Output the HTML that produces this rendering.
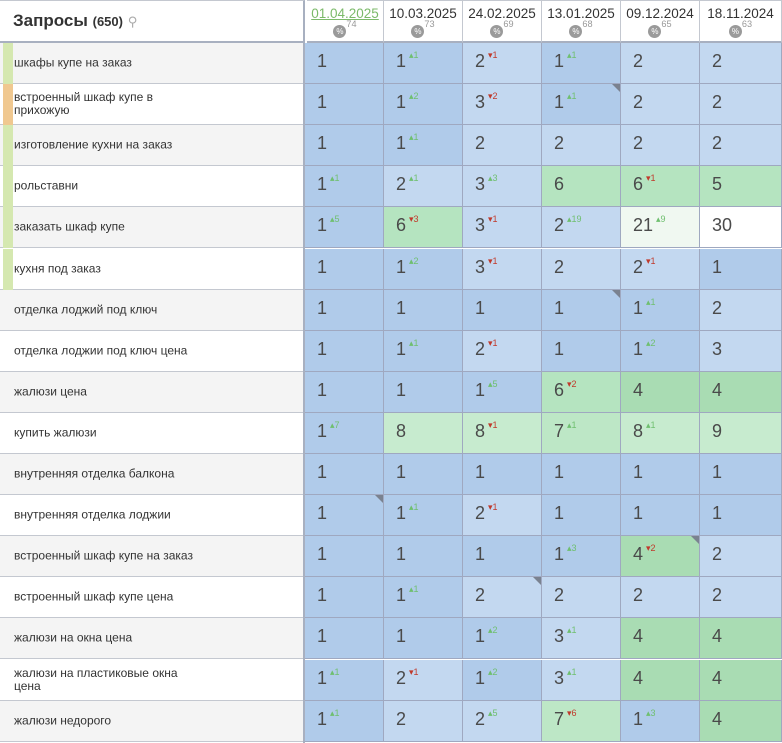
<!DOCTYPE html>
<html><head><meta charset="utf-8"><style>
body{margin:0;width:782px;height:743px;overflow:hidden;background:#fff;font-family:"Liberation Sans","DejaVu Sans",sans-serif;position:relative}
.a{position:absolute;box-sizing:border-box}
.lc{left:0;width:305px;height:41px;border-bottom:1px solid #c4c8d0;font-size:12px;color:#333;line-height:13px}
.lc .t{position:absolute;left:14px;top:50%;transform:translateY(-50%);width:180px}
.strip{position:absolute;left:3px;top:0;width:10px;height:41px}
.c{height:41px;border-right:1px solid #9fa8c0;border-bottom:1px solid #9fa8c0;font-size:18px;color:#4a4a4a;padding:8px 0 0 12px}
.c sup{font-size:9px;vertical-align:top;position:relative;top:-1px;margin-left:3px}
.g{color:#6fbf6f}.r{color:#c0392b}
.tri{position:absolute;right:0;top:0;width:0;height:0;border-top:8px solid #7a8290;border-left:8px solid transparent}
.h{top:0;height:43px;border-right:1px solid #c4c8d0;text-align:center;font-size:13.5px;color:#333}
.pc{display:inline-block;width:13px;height:13px;border-radius:50%;background:#9a9a9a;color:#fff;font-size:8px;line-height:13px;text-align:center;vertical-align:middle}
</style></head><body>
<div class="a" style="left:0;top:0;width:305px;height:43px;border-bottom:2px solid #a8b0c0;border-right:2px solid #a8b0c0;border-top:1px solid #c4c8d0"></div>
<div class="a" style="left:13px;top:11px;font-size:17px;font-weight:bold;color:#333">Запросы <span style="font-size:13px">(650)</span> <span style="font-size:13px;color:#aaa;font-weight:normal">⚲</span></div>
<div id="root"></div>
<script>
const dates=[["01.04.2025",74],["10.03.2025",73],["24.02.2025",69],["13.01.2025",68],["09.12.2024",65],["18.11.2024",63]];
const xs=[305,384,463,542,621,700,782];
const rows=[
["шкафы купе на заказ","#d5e8b0",[[1],[1,"g1"],[2,"r1"],[1,"g1"],[2],[2]]],
["встроенный шкаф купе в прихожую","#f0c890",[[1],[1,"g2"],[3,"r2"],[1,"g1",1],[2],[2]]],
["изготовление кухни на заказ","#d5e8b0",[[1],[1,"g1"],[2],[2],[2],[2]]],
["рольставни","#d5e8b0",[[1,"g1"],[2,"g1"],[3,"g3"],[6],[6,"r1"],[5]]],
["заказать шкаф купе","#d5e8b0",[[1,"g5"],[6,"r3"],[3,"r1"],[2,"g19"],[21,"g9"],[30]]],
["кухня под заказ","#d5e8b0",[[1],[1,"g2"],[3,"r1"],[2],[2,"r1"],[1]]],
["отделка лоджий под ключ","",[[1],[1],[1],[1,"",1],[1,"g1"],[2]]],
["отделка лоджии под ключ цена","",[[1],[1,"g1"],[2,"r1"],[1],[1,"g2"],[3]]],
["жалюзи цена","",[[1],[1],[1,"g5"],[6,"r2"],[4],[4]]],
["купить жалюзи","",[[1,"g7"],[8],[8,"r1"],[7,"g1"],[8,"g1"],[9]]],
["внутренняя отделка балкона","",[[1],[1],[1],[1],[1],[1]]],
["внутренняя отделка лоджии","",[[1,"",1],[1,"g1"],[2,"r1"],[1],[1],[1]]],
["встроенный шкаф купе на заказ","",[[1],[1],[1],[1,"g3"],[4,"r2",1],[2]]],
["встроенный шкаф купе цена","",[[1],[1,"g1"],[2,"",1],[2],[2],[2]]],
["жалюзи на окна цена","",[[1],[1],[1,"g2"],[3,"g1"],[4],[4]]],
["жалюзи на пластиковые окна цена","",[[1,"g1"],[2,"r1"],[1,"g2"],[3,"g1"],[4],[4]]],
["жалюзи недорого","",[[1,"g1"],[2],[2,"g5"],[7,"r6"],[1,"g3"],[4]]]];
function col(v){if(v==1)return"#b0cbea";if(v<=3)return"#c3d8f0";if(v==4)return"#a9dcb3";if(v<=6)return"#b5e4c0";if(v==7)return"#bde7c6";if(v<=10)return"#c7ebcf";if(v<=25)return"#f0f8f1";return"#fff";}
let h="";
dates.forEach((d,i)=>{let st=i==0?'color:#7cba6a;text-decoration:underline':'';
h+=`<div class="a h" style="left:${xs[i]+(i==0?2:0)}px;width:${xs[i+1]-xs[i]-(i==0?2:0)}px;border-bottom:2px solid #a8b0c0;border-top:1px solid #c4c8d0"><div style="margin-top:5px;${st}">${d[0]}</div><div style="margin-top:1px;font-size:11px;color:#999"><span class="pc">%</span><sup style="position:relative;top:-3px">${d[1]}</sup></div></div>`});
rows.forEach((r,j)=>{let y=43+j*41.1;
h+=`<div class="a lc" style="top:${y}px;background:${j%2==0?'#f4f4f4':'#fff'}">${r[1]?`<div class="strip" style="background:${r[1]}"></div>`:''}<div class="t">${r[0]}</div></div>`;
h+=`<div class="a" style="left:303px;top:${y}px;width:2px;height:42px;background:#a8b0c0"></div>`;
r[2].forEach((c,i)=>{let s="";if(c[1]){let g=c[1][0]=="g";s=`<sup class="${g?'g':'r'}">${g?'▴':'▾'}${c[1].slice(1)}</sup>`}
h+=`<div class="a c" style="left:${xs[i]}px;top:${y}px;width:${xs[i+1]-xs[i]}px;background:${col(c[0])}">${c[0]}${s}${c[2]?'<div class="tri"></div>':''}</div>`})});
document.getElementById("root").innerHTML=h;
</script>
</body></html>
